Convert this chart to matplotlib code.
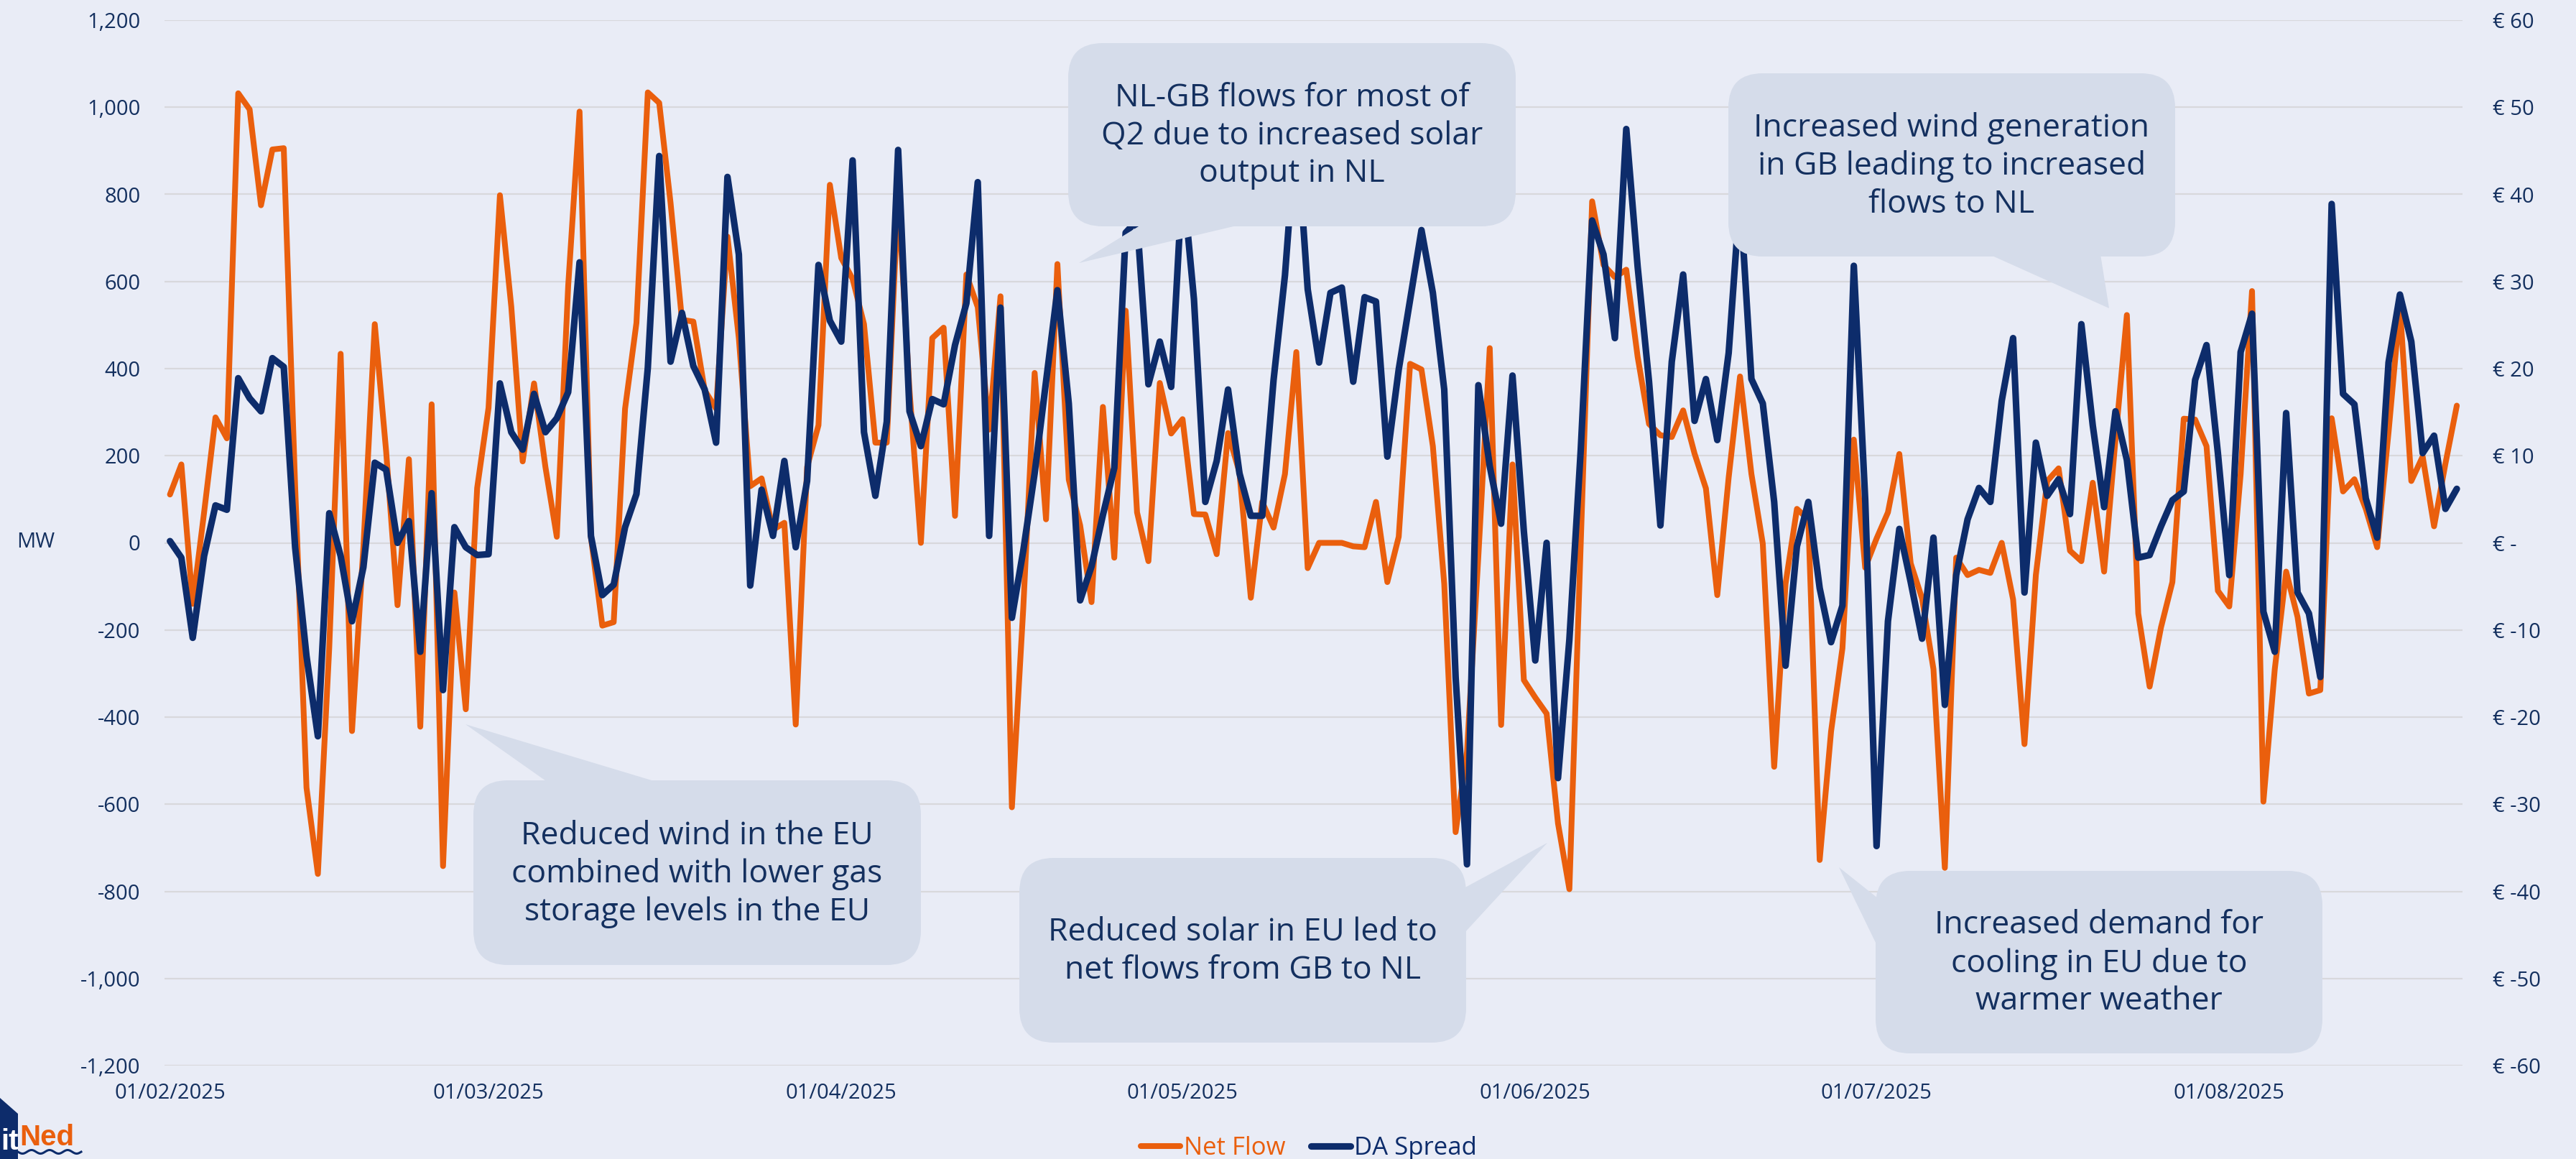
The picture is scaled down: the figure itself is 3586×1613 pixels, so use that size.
import numpy as np
import pandas as pd
import matplotlib
matplotlib.use("Agg")
import matplotlib.pyplot as plt
from matplotlib.patches import FancyBboxPatch, Polygon
from matplotlib.ticker import FuncFormatter

# daily values, 01/02/2025 .. 21/08/2025
net_flow = [
    111, 180, -140, 70, 288, 240, 1032, 995, 775, 903,
    906, 130, -562, -760, -240, 434, -432, -10, 502, 210,
    -143, 192, -422, 318, -742, -114, -382, 126, 310, 798,
    542, 187, 366, 174, 14, 590, 990, 13, -190, -182,
    308, 505, 1034, 1010, 780, 512, 508, 350, 308, 703,
    470, 130, 148, 30, 46, -417, 174, 270, 822, 654,
    606, 502, 230, 230, 798, 350, 0, 470, 494, 62,
    616, 541, 260, 566, -607, -150, 390, 54, 640, 145,
    40, -136, 312, -34, 533, 70, -42, 367, 251, 284,
    66, 65, -26, 252, 162, -126, 94, 35, 158, 438,
    -58, 0, 0, 0, -8, -10, 94, -90, 14, 411,
    398, 222, -94, -664, -480, -30, 447, -418, 180, -315,
    -355, -392, -644, -795, 0, 784, 638, 610, 627, 427,
    273, 247, 243, 304, 205, 125, -120, 150, 382, 158,
    -2, -514, -94, 78, 54, -728, -433, -242, 237, -57,
    10, 70, 204, -47, -128, -290, -746, -34, -74, -62,
    -69, 0, -130, -462, -74, 142, 171, -18, -42, 138,
    -66, 238, 523, -162, -330, -194, -90, 285, 283, 222,
    -110, -146, 158, 578, -594, -290, -66, -170, -346, -338,
    286, 118, 146, 78, -10, 254, 542, 142, 198, 38,
    182, 315,
]
da_spread = [
    0.2, -1.7, -10.9, -1.5, 4.3, 3.8, 18.9, 16.6, 15.1, 21.2,
    20.2, -0.5, -13.0, -22.2, 3.4, -1.5, -9.0, -2.8, 9.2, 8.4,
    0.0, 2.5, -12.5, 5.7, -16.9, 1.8, -0.5, -1.4, -1.3, 18.3,
    12.7, 10.7, 17.1, 12.7, 14.3, 17.3, 32.2, 0.8, -6.0, -4.8,
    1.8, 5.6, 20.1, 44.4, 20.8, 26.4, 20.3, 17.6, 11.5, 42.0,
    33.1, -4.9, 6.1, 0.8, 9.4, -0.5, 7.1, 31.9, 25.5, 23.1,
    43.9, 12.7, 5.4, 13.9, 45.1, 15.1, 11.1, 16.5, 15.9, 22.7,
    27.5, 41.4, 0.8, 27.0, -8.6, -0.9, 8.0, 18.5, 29.0, 16.0,
    -6.6, -2.7, 3.2, 8.6, 35.6, 37.0, 18.2, 23.1, 17.9, 42.0,
    28.0, 4.7, 9.4, 17.6, 8.0, 3.1, 3.1, 18.7, 30.7, 48.0,
    29.1, 20.7, 28.7, 29.3, 18.5, 28.2, 27.7, 9.9, 19.9, 27.9,
    35.9, 28.7, 17.6, -15.4, -36.9, 18.1, 8.8, 2.2, 19.2, 1.3,
    -13.5, 0.0, -27.0, -11.1, 10.7, 37.0, 33.1, 23.5, 47.5, 31.7,
    18.5, 2.0, 20.8, 30.8, 14.0, 18.8, 11.8, 21.8, 40.0, 18.8,
    16.0, 4.7, -14.1, -0.4, 4.7, -5.2, -11.4, -7.2, 31.8, 5.0,
    -34.8, -9.0, 1.6, -4.5, -11.0, 0.6, -18.6, -3.7, 2.7, 6.3,
    4.7, 16.3, 23.5, -5.7, 11.5, 5.4, 7.3, 3.3, 25.1, 13.5,
    4.1, 15.1, 9.5, -1.7, -1.4, 1.9, 4.9, 5.9, 18.7, 22.7,
    10.3, -3.7, 21.9, 26.3, -7.9, -12.5, 14.9, -5.7, -8.1, -15.4,
    38.9, 17.1, 15.9, 5.1, 0.6, 20.7, 28.5, 23.1, 10.3, 12.3,
    3.9, 6.2,
]
start_date = "2025-02-01"
month_ticks = ["2025-02-01", "2025-03-01", "2025-04-01", "2025-05-01",
               "2025-06-01", "2025-07-01", "2025-08-01"]
mw_ticks = list(range(-1200, 1201, 200))
eur_ticks = list(range(-60, 61, 10))

notes = [
    "NL-GB flows for most of\nQ2 due to increased solar\noutput in NL",
    "Increased wind generation\nin GB leading to increased\nflows to NL",
    "Reduced wind in the EU\ncombined with lower gas\nstorage levels in the EU",
    "Reduced solar in EU led to\nnet flows from GB to NL",
    "Increased demand for\ncooling in EU due to\nwarmer weather",
]

# layout in figure pixels (x right, y down): box x0, y0, x1, y1 and tail triangle
W, H = 3587, 1613
boxes = [(1487, 60, 2110, 315), (2406, 102, 3028, 357), (659, 1086, 1282, 1343),
         (1419, 1194, 2041, 1451), (2611, 1212, 3233, 1466)]
tails = [[(1590, 312), (1502, 366), (1730, 312)],
         [(2769, 354), (2936, 429), (2924, 354)],
         [(763, 1089), (648, 1008), (917, 1089)],
         [(2038, 1236), (2154, 1173), (2038, 1299)],
         [(2614, 1250), (2560, 1207), (2614, 1318)]]

ORANGE = "#EA5F0D"
NAVY = "#0D2C6B"
TXT = "#14305F"
BG = "#E9ECF6"
BUBBLE = "#D5DCEA"

plt.rcParams["font.family"] = ["Open Sans", "DejaVu Sans"]

dates = pd.date_range(start_date, periods=len(net_flow), freq="D")

fig = plt.figure(figsize=(W / 100, H / 100), dpi=100, facecolor=BG)
left, right, top, bottom = 228.7, 3428, 28, 1483
ax = fig.add_axes([left / W, 1 - bottom / H, (right - left) / W, (bottom - top) / H])
ax.set_facecolor(BG)
ax2 = ax.twinx()

ax.plot(dates, net_flow, color=ORANGE, lw=5.8, solid_joinstyle="round",
        solid_capstyle="round", label="Net Flow")
ax2.plot(dates, da_spread, color=NAVY, lw=6.6, solid_joinstyle="round",
         solid_capstyle="round", label="DA Spread")

ax.set_ylim(-1200, 1200)
ax2.set_ylim(-60, 60)
ax.set_yticks(mw_ticks)
ax2.set_yticks(eur_ticks)
ax.yaxis.set_major_formatter(FuncFormatter(lambda v, p: f"{v:,.0f}"))
ax2.yaxis.set_major_formatter(FuncFormatter(lambda v, p: "€ -" if v == 0 else f"€ {v:.0f}"))
ax.set_xlim(dates[0] - pd.Timedelta(hours=12), dates[-1] + pd.Timedelta(hours=12))
ax.set_xticks(pd.to_datetime(month_ticks))
ax.set_xticklabels([pd.Timestamp(d).strftime("%d/%m/%Y") for d in month_ticks])

ax.grid(axis="y", color="#D8D8DC", lw=1.6)
ax.grid(axis="x", visible=False)
ax.set_axisbelow(True)
for a in (ax, ax2):
    for s in a.spines.values():
        s.set_visible(False)
ax.tick_params(axis="y", length=0, pad=24, labelsize=21, labelcolor=TXT)
ax2.tick_params(axis="y", length=0, pad=30, labelsize=21, labelcolor=TXT)
ax.tick_params(axis="x", length=0, pad=17, labelsize=21, labelcolor=TXT)

fig.text(23 / W, 1 - 755 / H, "MW", fontsize=21, color=TXT, ha="left", va="center")

h1, l1 = ax.get_legend_handles_labels()
h2, l2 = ax2.get_legend_handles_labels()
fig.legend(h1 + h2, l1 + l2, loc="center", bbox_to_anchor=(1822 / W, 1 - 1598 / H),
           ncol=2, frameon=False, fontsize=25, labelcolor="linecolor",
           handlelength=1.6, handletextpad=0.15, columnspacing=1.0,
           borderaxespad=0, borderpad=0)

# overlay in pixel coordinates for callouts and logo
ov = fig.add_axes([0, 0, 1, 1])
ov.set_xlim(0, W)
ov.set_ylim(H, 0)
ov.axis("off")
ov.patch.set_visible(False)

for text, (x0, y0, x1, y1), tail in zip(notes, boxes, tails):
    ov.add_patch(Polygon(tail, closed=True, facecolor=BUBBLE, edgecolor="none", zorder=3))
    ov.add_patch(FancyBboxPatch((x0, y0), x1 - x0, y1 - y0,
                                boxstyle="round,pad=0,rounding_size=48",
                                facecolor=BUBBLE, edgecolor="none", zorder=3))
    ov.text((x0 + x1) / 2, (y0 + y1) / 2 + 2, text, fontsize=32, color=TXT,
            ha="center", va="center", multialignment="center", linespacing=1.24,
            zorder=4)

# partial logo, bottom-left corner
ov.add_patch(Polygon([(0, 1528), (25, 1550), (25, H), (0, H)], closed=True,
                     facecolor=NAVY, edgecolor="none", zorder=5))
ov.text(1, 1600, "it", fontsize=29, fontweight="bold", color="white",
        family="Liberation Sans", ha="left", va="baseline", zorder=6)
ov.text(27, 1594, "Ned", fontsize=29, fontweight="bold", color=ORANGE,
        family="Liberation Sans", ha="left", va="baseline", zorder=6)
wx = np.linspace(25, 113, 60)
ov.plot(wx, 1603 + 2.5 * np.sin((wx - 25) / 88 * 2 * np.pi * 3.5), color=NAVY, lw=2.2, zorder=6)

fig.savefig("out.png", dpi=100, facecolor=BG)
